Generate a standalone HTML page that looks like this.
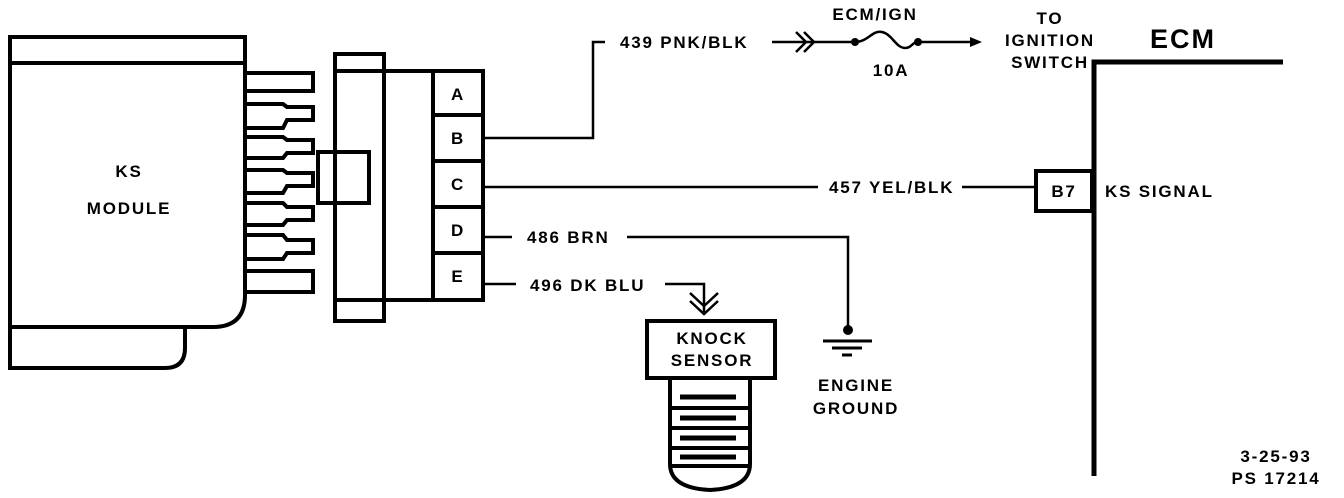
<!DOCTYPE html>
<html><head><meta charset="utf-8"><style>
html,body{margin:0;padding:0;background:#fff;}
svg{display:block;}
text{font-family:"Liberation Sans",sans-serif;font-weight:bold;font-size:17px;letter-spacing:1.8px;fill:#000;}
</style></head><body>
<svg width="1344" height="498" viewBox="0 0 1344 498" xmlns="http://www.w3.org/2000/svg">
<g fill="none" stroke="#000" stroke-width="4">
<path d="M10 37 H245 V295 Q245 327 213 327 H10 Z"/>
<line x1="10" y1="63" x2="245" y2="63"/>
<path d="M10 327 V368 H165 Q185 368 185 348 V327"/>
<path d="M245 73 H313 V91 H245"/>
<path d="M245 104 H283 L287 107 H313 V120 H287 L283 128 H245"/>
<path d="M245 137 H283 L287 140 H313 V153 H287 L283 158 H245"/>
<path d="M245 170 H283 L287 173 H313 V186 H287 L283 193 H245"/>
<path d="M245 203 H283 L287 207 H313 V220 H287 L283 225 H245"/>
<path d="M245 235 H283 L287 240 H313 V253 H287 L283 259 H245"/>
<path d="M245 271 H313 V292 H245"/>
<rect x="335" y="54" width="49" height="267"/>
<rect x="335" y="71" width="148" height="229"/>
<line x1="433" y1="71" x2="433" y2="300"/>
<line x1="433" y1="115" x2="483" y2="115"/>
<line x1="433" y1="161" x2="483" y2="161"/>
<line x1="433" y1="207" x2="483" y2="207"/>
<line x1="433" y1="253" x2="483" y2="253"/>
<rect x="318" y="152" width="51" height="51"/>
</g>
<g fill="none" stroke="#000" stroke-width="2.5">
<path d="M483 138 H593 V42 H605"/>
<line x1="772" y1="42" x2="822" y2="42"/>
<path d="M796 32 L806 42 L796 52 M804 32 L814 42 L804 52"/>
<line x1="822" y1="42" x2="855" y2="42"/>
<path d="M855 42 C868 42 872 30 882 32 C892 34 896 48 905 48 C912 48 912 42 918 42"/>
<line x1="918" y1="42" x2="970" y2="42"/>
<line x1="483" y1="187" x2="818" y2="187"/>
<line x1="962" y1="187" x2="1036" y2="187"/>
<line x1="483" y1="237" x2="512" y2="237"/>
<path d="M627 237 H848 V330"/>
<line x1="483" y1="284" x2="516" y2="284"/>
<path d="M665 284 H704 V312"/>
<path d="M690 293 L704 306 L718 293 M690 301 L704 314 L718 301"/>
</g>
<circle cx="855" cy="42" r="4"/>
<circle cx="918" cy="42" r="4"/>
<path d="M970 37 L982 42 L970 47 Z"/>
<circle cx="848" cy="330" r="5"/>
<g stroke="#000" stroke-width="3">
<line x1="823" y1="341" x2="872" y2="341"/>
<line x1="832" y1="348" x2="862" y2="348"/>
<line x1="842" y1="355" x2="852" y2="355"/>
</g>
<g fill="none" stroke="#000" stroke-width="5">
<path d="M1283 62 H1094 V476"/>
<rect x="1036" y="171" width="56" height="40" stroke-width="4"/>
</g>
<g fill="none" stroke="#000" stroke-width="4">
<rect x="647" y="321" width="128" height="57"/>
<path d="M670 378 V464 Q670 488 710 490 Q750 488 750 464 V378"/>
<line x1="670" y1="408" x2="750" y2="408"/>
<line x1="670" y1="428" x2="750" y2="428"/>
<line x1="670" y1="448" x2="750" y2="448"/>
<line x1="670" y1="466" x2="750" y2="466"/>
</g>
<g stroke="#000" stroke-width="5">
<line x1="680" y1="397" x2="736" y2="397"/>
<line x1="680" y1="418" x2="736" y2="418"/>
<line x1="680" y1="438" x2="736" y2="438"/>
<line x1="680" y1="457" x2="736" y2="457"/>
</g>
<text x="129" y="177" text-anchor="middle">KS</text>
<text x="129" y="214" text-anchor="middle">MODULE</text>
<text x="458" y="100" text-anchor="middle">A</text>
<text x="458" y="144" text-anchor="middle">B</text>
<text x="458" y="190" text-anchor="middle">C</text>
<text x="458" y="236" text-anchor="middle">D</text>
<text x="458" y="282" text-anchor="middle">E</text>
<text x="620" y="48">439 PNK/BLK</text>
<text x="875" y="20" text-anchor="middle">ECM/IGN</text>
<text x="891" y="76" text-anchor="middle">10A</text>
<text x="1050" y="24" text-anchor="middle">TO</text>
<text x="1050" y="46" text-anchor="middle">IGNITION</text>
<text x="1050" y="68" text-anchor="middle">SWITCH</text>
<text x="1183" y="48" text-anchor="middle" style="font-size:27px;letter-spacing:2px">ECM</text>
<text x="829" y="193">457 YEL/BLK</text>
<text x="1064" y="197" text-anchor="middle">B7</text>
<text x="1105" y="197">KS SIGNAL</text>
<text x="527" y="243">486 BRN</text>
<text x="530" y="291">496 DK BLU</text>
<text x="712" y="344" text-anchor="middle">KNOCK</text>
<text x="712" y="366" text-anchor="middle">SENSOR</text>
<text x="856" y="391" text-anchor="middle">ENGINE</text>
<text x="856" y="414" text-anchor="middle">GROUND</text>
<text x="1276" y="462" text-anchor="middle">3-25-93</text>
<text x="1276" y="484" text-anchor="middle">PS 17214</text>
</svg>
</body></html>
